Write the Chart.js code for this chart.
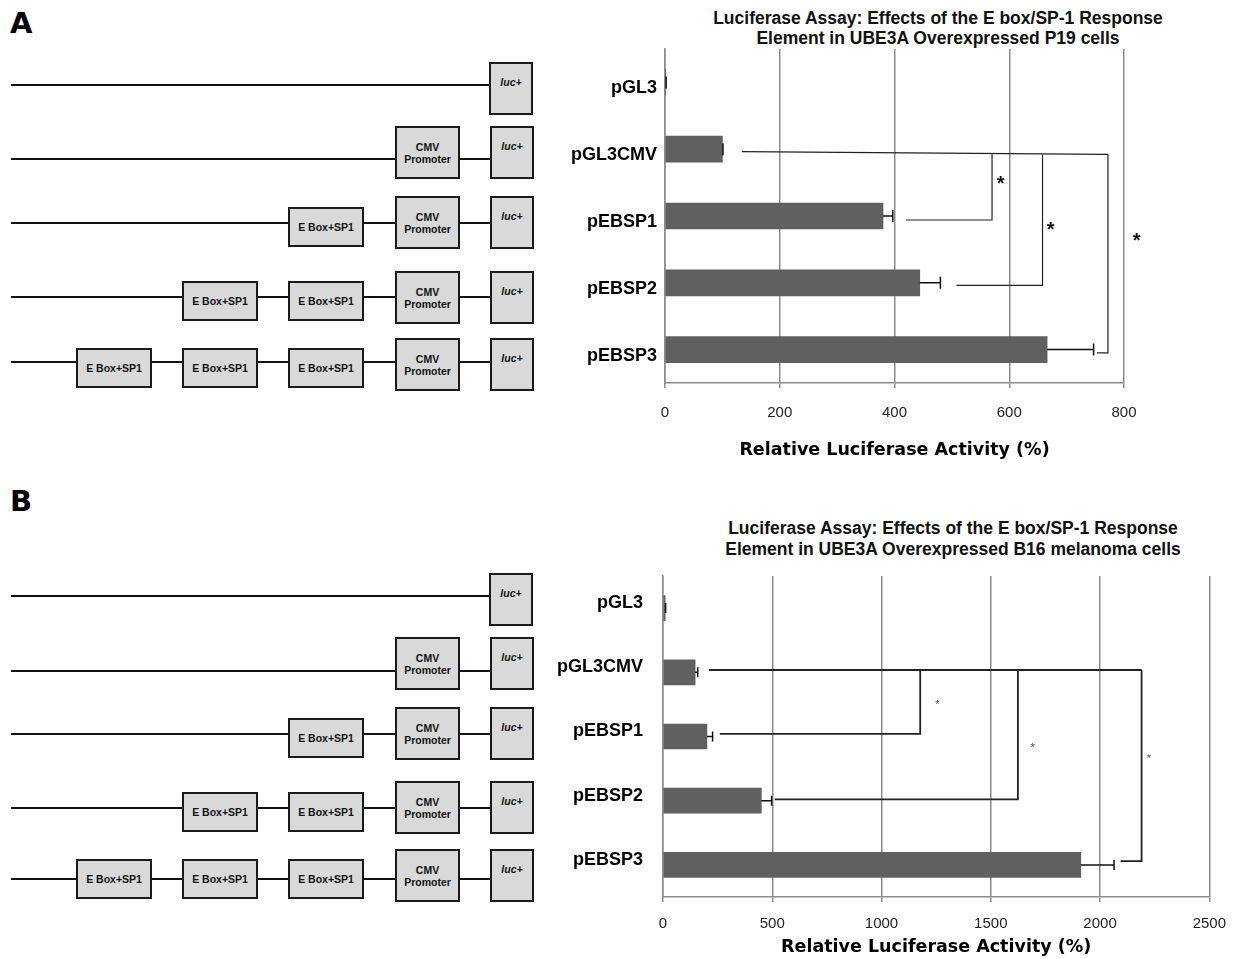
<!DOCTYPE html>
<html>
<head>
<meta charset="utf-8">
<title>Luciferase Assay</title>
<script src="https://cdn.jsdelivr.net/npm/chart.js@4.4.1/dist/chart.umd.min.js"></script>
<style>
  html, body { margin: 0; padding: 0; background: #fff; }
  #page { position: relative; width: 1239px; height: 959px; overflow: hidden; font-family: 'Liberation Sans', Arial, sans-serif; }
  .letter { position: absolute; left: 10px; font: bold 29px/29px 'DejaVu Sans', sans-serif; color: #000; }
  .wire { position: absolute; background: #111; }
  .part { position: absolute; box-sizing: border-box; border: 2px solid #1a1a1a; background: #d9d9d9; color: #111;
          font-weight: bold; font-size: 10.5px; line-height: 12px; text-align: center;
          display: flex; flex-direction: column; align-items: center; justify-content: center; }
  .part.luc { justify-content: flex-start; padding-top: 12px; font-style: italic; }
  .title { position: absolute; transform: translateX(-50%); white-space: nowrap; text-align: center;
           font-weight: bold; font-size: 17.5px; line-height: 20px; color: #111; }
  canvas { position: absolute; }
</style>
</head>
<body>
<div id="page">
  <div class="letter" style="top:9px">A</div>
  <div class="letter" style="top:487px">B</div>
  <div class="title" style="left:938px;top:8px">Luciferase Assay: Effects of the E box/SP-1 Response<br>Element in UBE3A Overexpressed P19 cells</div>
  <div class="title" style="left:953px;top:518px;line-height:21px">Luciferase Assay: Effects of the E box/SP-1 Response<br>Element in UBE3A Overexpressed B16 melanoma cells</div>
  <canvas id="chartA" width="679" height="470" style="left:560px;top:0px"></canvas>
  <canvas id="chartB" width="699" height="490" style="left:540px;top:480px"></canvas>
</div>
<script>
const constructs = ['pGL3', 'pGL3CMV', 'pEBSP1', 'pEBSP2', 'pEBSP3'];
const eboxCount = [0, 0, 1, 2, 3];
const hasCmv = [false, true, true, true, true];

// A - P19 cells
const p19Activity = [1, 100, 380, 444, 666];
const p19Sem = [1, 1, 17, 36, 81];
const p19Ticks = [0, 200, 400, 600, 800];
// [x of the vertical, x where the lower arm starts, row of the lower arm]
const p19Brackets = [[570, 420, 2.06], [658, 508, 3.04], [772, 753, 4.05]];
const p19TopArm = [134, 1.037, 772, 1.076];
const p19Stars = [[585, 1.47], [672, 2.16], [822, 2.32]];

// B - B16 melanoma cells
const b16Activity = [10, 147, 201, 450, 1912];
const b16Sem = [2, 12, 26, 47, 152];
const b16Ticks = [0, 500, 1000, 1500, 2000, 2500];
const b16Brackets = [[1177, 260, 1.96], [1624, 511, 2.98], [2190, 2094, 3.94]];
const b16TopArm = [210, 0.964, 2190, 0.964];
const b16Stars = [[1256, 1.48], [1691, 2.15], [2223, 2.32]];

Chart.defaults.font.family = "'Liberation Sans', Arial, sans-serif";

// construct diagrams on the left
const EBOX_X = [288, 182, 76];
function drawConstructs(rows) {
  const page = document.getElementById('page');
  const add = (cls, l, t, w, h, html) => {
    const d = document.createElement('div');
    d.className = cls;
    Object.assign(d.style, { left: l + 'px', top: t + 'px', width: w + 'px', height: h + 'px' });
    d.innerHTML = html || '';
    page.appendChild(d);
  };
  constructs.forEach((name, i) => {
    add('wire', 11, rows.wire[i] - 1, 480, 2);
    for (let k = 0; k < eboxCount[i]; k++) add('part', EBOX_X[k], rows.ebox[i], 76, 40, 'E Box+SP1');
    if (hasCmv[i]) add('part', 395, rows.box[i], 65, 53, 'CMV<br>Promoter');
    add('part luc', i === 0 ? 489 : 490, rows.box[i], 44, 53, 'luc+');
  });
}
drawConstructs({ wire: [85, 159, 223, 297, 362], box: [62, 126, 196, 271, 338], ebox: [0, 0, 207, 281, 348] });
drawConstructs({ wire: [596, 671, 734, 808, 879], box: [573, 637, 707, 781, 849], ebox: [0, 0, 718, 792, 859] });

// error bars, significance brackets and stars
function marksPlugin(sem, cfg) {
  return {
    id: 'marks',
    afterDatasetsDraw(chart) {
      const { ctx, scales: { x, y } } = chart;
      const vals = chart.data.datasets[0].data;
      ctx.save();
      ctx.strokeStyle = '#111';
      ctx.lineWidth = cfg.errWidth;
      ctx.beginPath();
      vals.forEach((v, i) => {
        const x0 = x.getPixelForValue(v), x1 = x.getPixelForValue(v + sem[i]), yy = y.getPixelForValue(i);
        ctx.moveTo(x0, yy); ctx.lineTo(x1, yy);
        ctx.moveTo(x1, yy - cfg.cap); ctx.lineTo(x1, yy + cfg.cap);
      });
      ctx.stroke();

      ctx.strokeStyle = cfg.bracketColor;
      ctx.lineWidth = cfg.bracketWidth;
      const [ax0, ay0, ax1, ay1] = cfg.top;
      const topRow = vx => ay0 + (ay1 - ay0) * (vx - ax0) / (ax1 - ax0);
      ctx.beginPath();
      ctx.moveTo(x.getPixelForValue(ax0), y.getPixelForValue(ay0));
      ctx.lineTo(x.getPixelForValue(ax1), y.getPixelForValue(ay1));
      cfg.brackets.forEach(([vx, hx, row]) => {
        const px = x.getPixelForValue(vx);
        ctx.moveTo(px, y.getPixelForValue(topRow(vx)));
        ctx.lineTo(px, y.getPixelForValue(row));
        ctx.lineTo(x.getPixelForValue(hx), y.getPixelForValue(row));
      });
      ctx.stroke();

      ctx.fillStyle = cfg.starColor;
      ctx.font = cfg.starFont;
      ctx.textAlign = 'center';
      ctx.textBaseline = 'middle';
      cfg.stars.forEach(([sx, row]) => ctx.fillText('*', x.getPixelForValue(sx), y.getPixelForValue(row) + cfg.starShift));
      ctx.restore();
    }
  };
}

function drawPanel(canvasId, activity, sem, ticks, cfg) {
  return new Chart(document.getElementById(canvasId), {
    type: 'bar',
    data: {
      labels: constructs,
      datasets: [{ data: activity, backgroundColor: '#606060', barThickness: cfg.barThickness }]
    },
    options: {
      indexAxis: 'y',
      responsive: false,
      animation: false,
      events: [],
      layout: { padding: cfg.padding },
      plugins: { legend: { display: false }, tooltip: { enabled: false } },
      scales: {
        x: {
          min: ticks[0],
          max: ticks[ticks.length - 1],
          afterBuildTicks: s => { s.ticks = ticks.map(v => ({ value: v })); },
          ticks: { color: '#222', font: { size: 15 }, padding: cfg.tickPad, maxRotation: 0, callback: v => String(v) },
          grid: { color: '#8c8c8c', lineWidth: 1.5, tickLength: 5 },
          border: { color: '#8c8c8c', width: 1.5 },
          title: {
            display: true,
            text: 'Relative Luciferase Activity (%)',
            color: '#000',
            font: { family: "'DejaVu Sans', sans-serif", size: 17.5, weight: 'bold' },
            padding: { top: 0, bottom: cfg.titlePad }
          },
          afterFit: s => { s.height = cfg.xHeight; }
        },
        y: {
          ticks: { color: '#000', font: { size: 18, weight: 'bold' }, padding: cfg.labelPad, labelOffset: cfg.labelOffset },
          grid: { display: false },
          border: { color: '#8c8c8c', width: 1.5 },
          afterFit: s => { s.width = cfg.yWidth; }
        }
      }
    },
    plugins: [marksPlugin(sem, cfg)]
  });
}

drawPanel('chartA', p19Activity, p19Sem, p19Ticks, {
  padding: { left: 0, right: 115, top: 49, bottom: 0 },
  barThickness: 26, yWidth: 105, xHeight: 87, tickPad: 16, titlePad: 9, labelPad: 0, labelOffset: 6,
  errWidth: 1.5, cap: 6, bracketWidth: 1.2, bracketColor: '#222',
  top: p19TopArm, brackets: p19Brackets, stars: p19Stars,
  starColor: '#111', starFont: 'bold 20px "Liberation Sans", Arial', starShift: 4
});

drawPanel('chartB', b16Activity, b16Sem, b16Ticks, {
  padding: { left: 0, right: 28, top: 96, bottom: 0 },
  barThickness: 25, yWidth: 123, xHeight: 73, tickPad: 13, titlePad: 12, labelPad: 12, labelOffset: -5,
  errWidth: 1.5, cap: 5, bracketWidth: 1.8, bracketColor: '#222',
  top: b16TopArm, brackets: b16Brackets, stars: b16Stars,
  starColor: '#4a4a60', starFont: '11px "Liberation Sans", Arial', starShift: 2
});
</script>
</body>
</html>
